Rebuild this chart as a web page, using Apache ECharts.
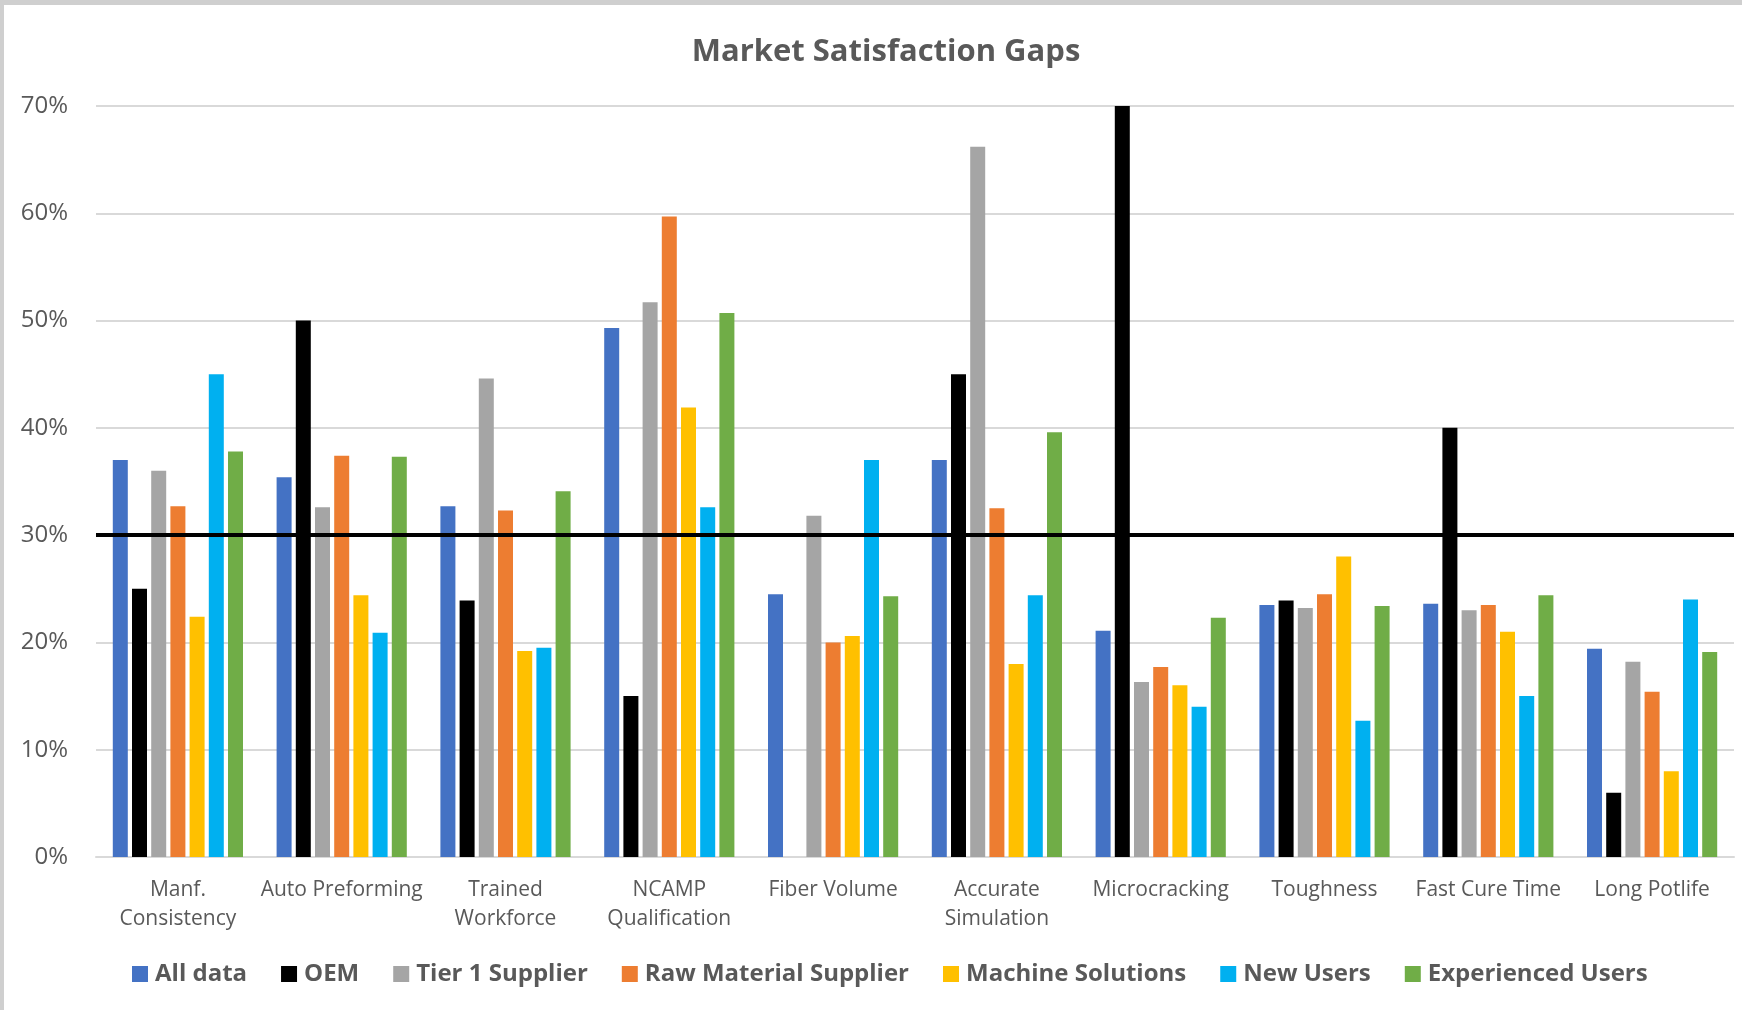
<!DOCTYPE html>
<html>
<head>
<meta charset="utf-8">
<script src="https://cdn.jsdelivr.net/npm/echarts@6/dist/echarts.min.js"></script>
<style>
  html, body { margin: 0; padding: 0; background: #ffffff; }
  #chart { position: absolute; left: 0; top: 0; width: 1742px; height: 1010px; }
  .strip { position: absolute; background: #cfcfcf; pointer-events: none; z-index: 5; }
</style>
</head>
<body>
<div id="chart"></div>
<div class="strip" style="left:0;top:0;width:1742px;height:5px;"></div>
<div class="strip" style="left:0;top:0;width:4px;height:1010px;"></div>
<script>
const categories = ['Manf.\nConsistency', 'Auto Preforming', 'Trained\nWorkforce', 'NCAMP\nQualification', 'Fiber Volume', 'Accurate\nSimulation', 'Microcracking', 'Toughness', 'Fast Cure Time', 'Long Potlife'];
const seriesNames = ['All data', 'OEM', 'Tier 1 Supplier', 'Raw Material Supplier', 'Machine Solutions', 'New Users', 'Experienced Users'];
const seriesColors = ['#4472C4', '#000000', '#A5A5A5', '#ED7D31', '#FFC000', '#00B0F0', '#70AD47'];

const allData            = [0.370, 0.354, 0.327, 0.493, 0.245, 0.370, 0.211, 0.235, 0.236, 0.194];
const oem                = [0.250, 0.500, 0.239, 0.150, null,  0.450, 0.700, 0.239, 0.400, 0.060];
const tier1Supplier      = [0.360, 0.326, 0.446, 0.517, 0.318, 0.662, 0.163, 0.232, 0.230, 0.182];
const rawMaterial        = [0.327, 0.374, 0.323, 0.597, 0.200, 0.325, 0.177, 0.245, 0.235, 0.154];
const machineSolutions   = [0.224, 0.244, 0.192, 0.419, 0.206, 0.180, 0.160, 0.280, 0.210, 0.080];
const newUsers           = [0.450, 0.209, 0.195, 0.326, 0.370, 0.244, 0.140, 0.127, 0.150, 0.240];
const experiencedUsers   = [0.378, 0.373, 0.341, 0.507, 0.243, 0.396, 0.223, 0.234, 0.244, 0.191];

const thresholdValue = 0.30;
const yTicks = { min: 0, max: 0.7, interval: 0.1 };

const seriesValues = [allData, oem, tier1Supplier, rawMaterial, machineSolutions, newUsers, experiencedUsers];

const textColor = '#595959';
const font = '"Open Sans", "Noto Sans", sans-serif';

const series = seriesNames.map((name, i) => {
  const s = {
    name: name,
    type: 'bar',
    data: seriesValues[i],
    barWidth: 15,
    barGap: '28%',
    itemStyle: { color: seriesColors[i] },
    emphasis: { disabled: true },
    animation: false
  };
  if (i === 0) {
    s.markLine = {
      silent: true,
      symbol: 'none',
      label: { show: false },
      lineStyle: { color: '#000000', width: 4, type: 'solid' },
      data: [{ yAxis: thresholdValue }],
      animation: false
    };
  }
  return s;
});

const chart = echarts.init(document.getElementById('chart'), null, { renderer: 'canvas' });
chart.setOption({
  backgroundColor: '#ffffff',
  animation: false,
  title: {
    text: 'Market Satisfaction Gaps',
    left: 881,
    textAlign: 'center',
    top: 32,
    textStyle: { fontFamily: font, fontSize: 31, fontWeight: 'bold', color: textColor }
  },
  legend: {
    data: seriesNames,
    left: 127,
    top: 957,
    itemWidth: 16,
    itemHeight: 16,
    itemGap: 34,
    icon: 'rect',
    selectedMode: false,
    textStyle: { fontFamily: font, fontSize: 24, fontWeight: 'bold', color: textColor, padding: [0, 0, 0, 2] }
  },
  grid: { left: 96, right: 8, top: 106, bottom: 153, containLabel: false },
  xAxis: {
    type: 'category',
    data: categories,
    axisLine: { show: true, lineStyle: { color: '#d9d9d9', width: 2 } },
    axisTick: { show: false },
    axisLabel: { fontFamily: font, fontSize: 21, color: textColor, margin: 19, lineHeight: 29, interval: 0 }
  },
  yAxis: {
    type: 'value',
    min: yTicks.min,
    max: yTicks.max,
    interval: yTicks.interval,
    axisLine: { show: false },
    axisTick: { show: false },
    splitLine: { lineStyle: { color: '#d9d9d9', width: 2 } },
    axisLabel: {
      fontFamily: font, fontSize: 24, color: textColor, margin: 28,
      formatter: v => Math.round(v * 100) + '%'
    }
  },
  series: series
});
</script>
</body>
</html>
